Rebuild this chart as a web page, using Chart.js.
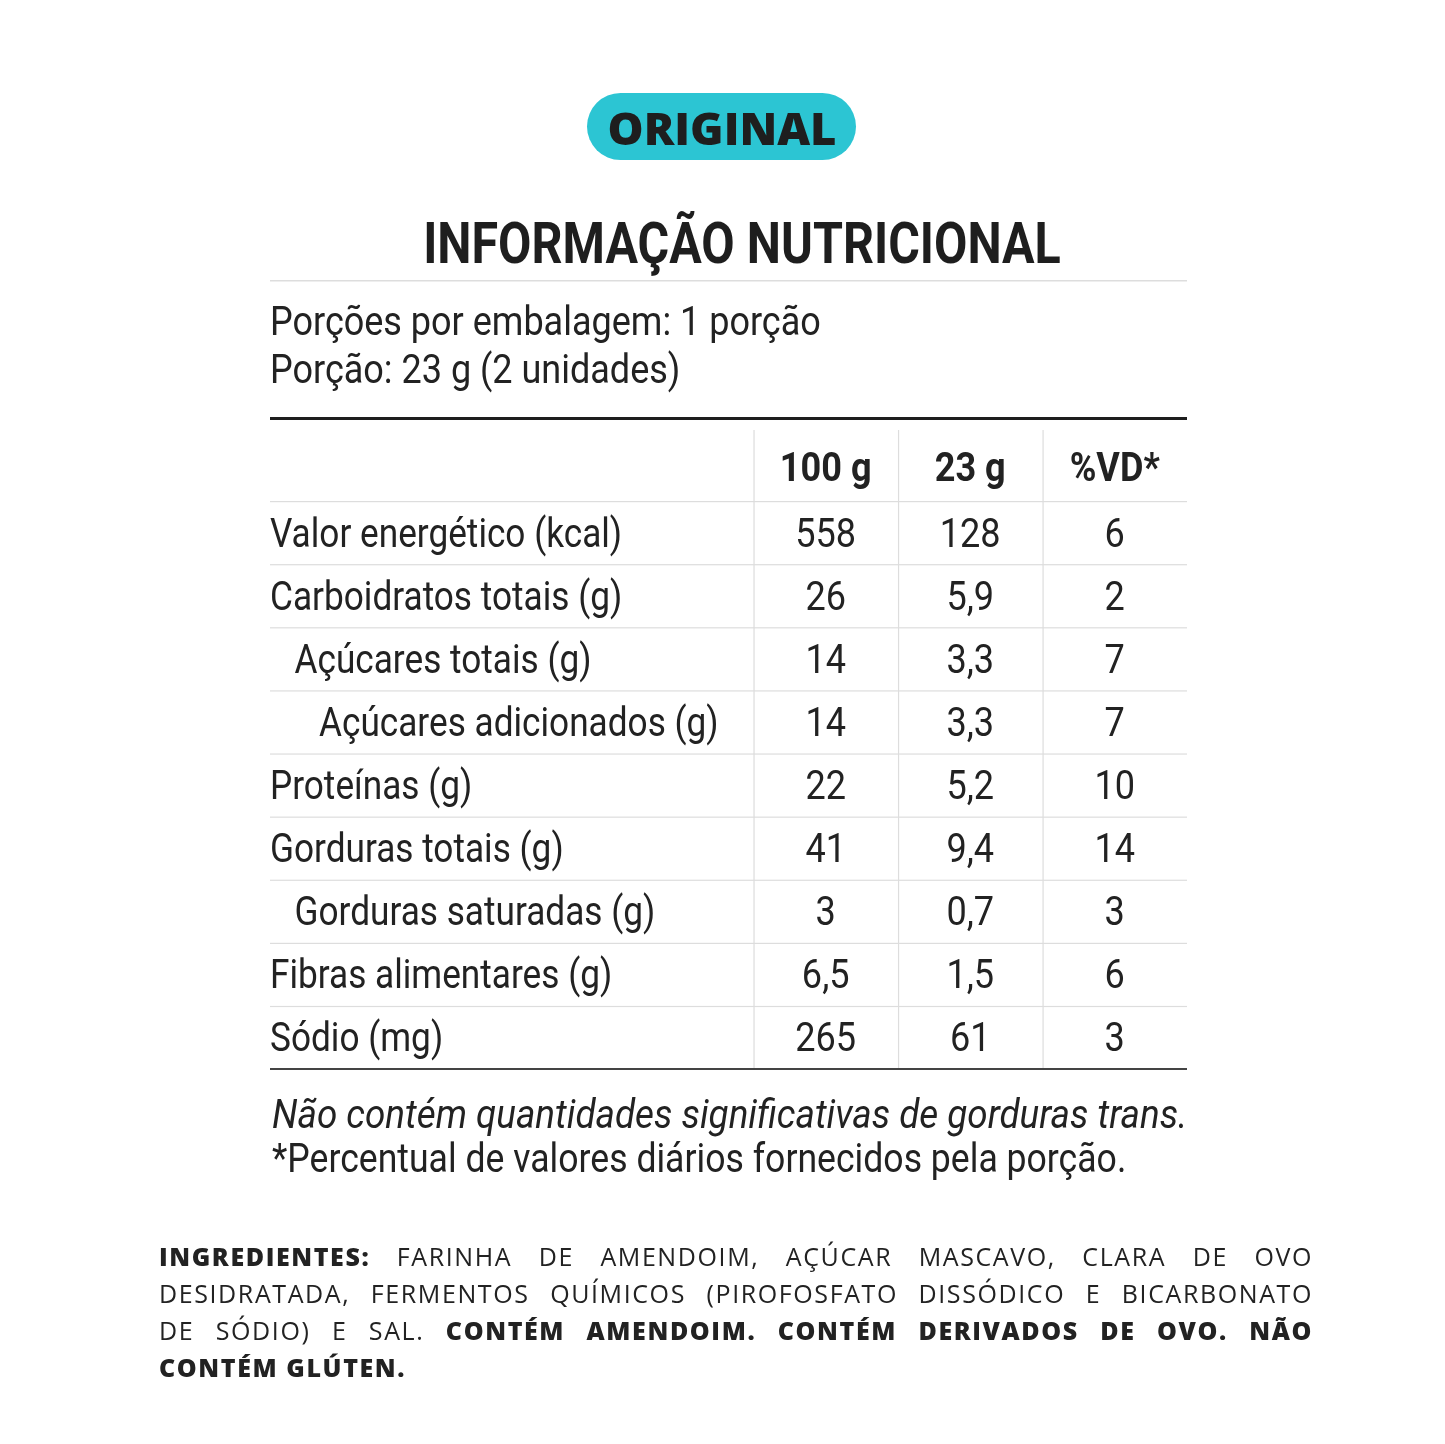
<!DOCTYPE html>
<html><head><meta charset="utf-8">
<script src="https://cdn.jsdelivr.net/npm/chart.js@4.4.0/dist/chart.umd.min.js"></script>
<style>
html,body{margin:0;padding:0;background:#fff;}
#wrap{position:relative;width:1445px;height:1444px;}
canvas{position:absolute;left:0;top:0;}
.ing{position:absolute;left:159px;width:1154px;font-family:"Open Sans",sans-serif;font-size:25px;color:#222;letter-spacing:1.6px;text-align:justify;text-align-last:justify;line-height:37px;white-space:nowrap;}
.ing b{font-weight:800;}
</style></head><body>
<div id="wrap"><canvas id="c" width="1445" height="1444"></canvas>
<div class="ing" style="top:1238px"><b>INGREDIENTES:</b> FARINHA DE AMENDOIM, AÇÚCAR MASCAVO, CLARA DE OVO</div>
<div class="ing" style="top:1275px">DESIDRATADA, FERMENTOS QUÍMICOS (PIROFOSFATO DISSÓDICO E BICARBONATO</div>
<div class="ing" style="top:1312px">DE SÓDIO) E SAL. <b>CONTÉM AMENDOIM. CONTÉM DERIVADOS DE OVO. NÃO</b></div>
<div class="ing" style="top:1349px;text-align-last:left"><b>CONTÉM GLÚTEN.</b></div>
</div>
<script>
const columns = ["100 g", "23 g", "%VD*"];
const rowLabels = ["Valor energético (kcal)","Carboidratos totais (g)","Açúcares totais (g)","Açúcares adicionados (g)","Proteínas (g)","Gorduras totais (g)","Gorduras saturadas (g)","Fibras alimentares (g)","Sódio (mg)"];
const rowIndent = [0,0,1,2,0,0,1,0,0];
const per100 = [558,26,14,14,22,41,3,6.5,265];
const per23 = [128,5.9,3.3,3.3,5.2,9.4,0.7,1.5,61];
const vd = [6,2,7,7,10,14,3,6,3];

const fmt = v => String(v).replace('.', ',');
const LABELW = 3.345;
function cells(arr, ci){ return arr.map((v,i)=>({x: LABELW+ci+0.5, y:i+0.5, t:fmt(v)})); }

function txt(ctx, s, x, y, font, align, sx, color){
  ctx.save(); ctx.font=font; ctx.fillStyle=color||'#222'; ctx.textBaseline='alphabetic';
  const w=ctx.measureText(s).width*sx;
  let x0 = align==='center'? x-w/2 : align==='right'? x-w : x;
  ctx.translate(x0,y); ctx.scale(sx,1); ctx.textAlign='left'; ctx.fillText(s,0,0); ctx.restore();
}
const SX=0.88;
const tablePlugin = {
  id:'tbl',
  afterDraw(chart){
    const ctx=chart.ctx, xs=chart.scales.x, ys=chart.scales.y;
    const L=xs.getPixelForValue(0), R=xs.getPixelForValue(xs.max);
    const T=ys.getPixelForValue(ys.min), B=ys.getPixelForValue(ys.max);
    ctx.save(); ctx.fillStyle='#2cc5d3'; ctx.beginPath(); ctx.roundRect(587,93,269,67,33.5); ctx.fill(); ctx.restore();
    txt(ctx,'ORIGINAL',722,145,'800 44px "Open Sans"','center',1.03,'#1e1e1e');
    txt(ctx,'INFORMAÇÃO NUTRICIONAL',742,263,'bold 57px Roboto','center',0.85,'#1e1e1e');
    ctx.fillStyle='#ddd'; ctx.fillRect(L,280,R-L,1.5);
    txt(ctx,'Porções por embalagem: 1 porção',L,335,'40px Roboto','left',0.90);
    txt(ctx,'Porção: 23 g (2 unidades)',L,383,'40px Roboto','left',0.90);
    ctx.fillStyle='#1e1e1e'; ctx.fillRect(L,417,R-L,3);
    ctx.fillStyle='#ddd';
    for(let i=0;i<rowLabels.length;i++){ const y=ys.getPixelForValue(i); ctx.fillRect(L,y,R-L,1.2); }
    for(let c=0;c<columns.length;c++){ const x=xs.getPixelForValue(LABELW+c); ctx.fillRect(x,T,1.2,B-T); }
    ctx.fillStyle='#444'; ctx.fillRect(L,B-1,R-L,2);
    columns.forEach((h,c)=>txt(ctx,h,xs.getPixelForValue(LABELW+c+0.5),ys.getPixelForValue(-0.56)+15,'bold 41px Roboto','center',SX));
    rowLabels.forEach((s,i)=>txt(ctx,s,L+rowIndent[i]*24.5,ys.getPixelForValue(i+0.5)+14,'40px Roboto','left',SX));
    chart.data.datasets.forEach(ds=>ds.data.forEach(p=>txt(ctx,p.t,xs.getPixelForValue(p.x),ys.getPixelForValue(p.y)+14,'41px Roboto','center',SX)));
    txt(ctx,'Não contém quantidades significativas de gorduras trans.',272,1128,'italic 40px Roboto','left',0.92);
    txt(ctx,'*Percentual de valores diários fornecidos pela porção.',272,1172,'40px Roboto','left',0.89);
  }
};
new Chart(document.getElementById('c'),{
  type:'scatter',
  data:{datasets:[
    {data:cells(per100,0),pointRadius:0},
    {data:cells(per23,1),pointRadius:0},
    {data:cells(vd,2),pointRadius:0}
  ]},
  options:{responsive:false,animation:false,devicePixelRatio:1,
    layout:{padding:{left:270,right:258,top:430,bottom:375}},
    plugins:{legend:{display:false},tooltip:{enabled:false}},
    scales:{x:{type:'linear',min:0,max:LABELW+3,display:false},
            y:{type:'linear',min:-1.125,max:9,reverse:true,display:false}}
  },
  plugins:[tablePlugin]
});
</script></body></html>
